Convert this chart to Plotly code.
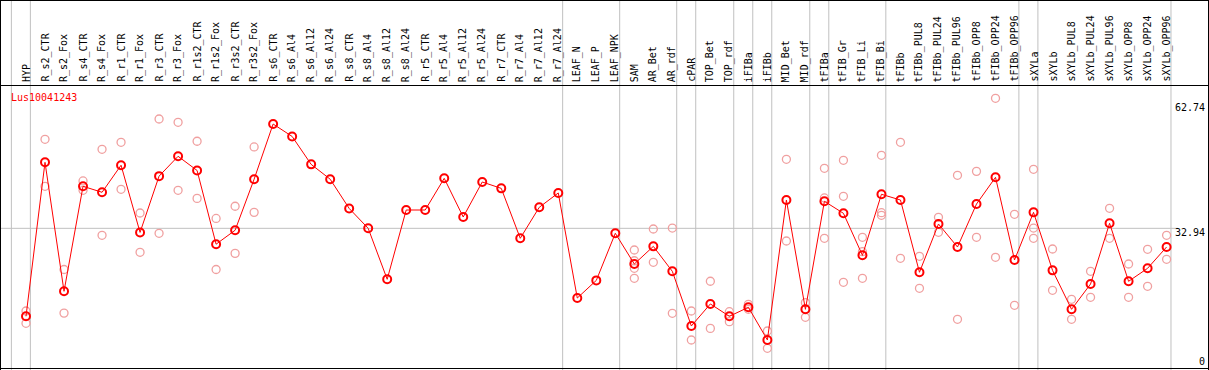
import plotly.graph_objects as go

categories = ["HYP", "R_s2_CTR", "R_s2_Fox", "R_s4_CTR", "R_s4_Fox", "R_r1_CTR", "R_r1_Fox",
              "R_r3_CTR", "R_r3_Fox", "R_r1s2_CTR", "R_r1s2_Fox", "R_r3s2_CTR", "R_r3s2_Fox",
              "R_s6_CTR", "R_s6_Al4", "R_s6_Al12", "R_s6_Al24", "R_s8_CTR", "R_s8_Al4", "R_s8_Al12",
              "R_s8_Al24", "R_r5_CTR", "R_r5_Al4", "R_r5_Al12", "R_r5_Al24", "R_r7_CTR", "R_r7_Al4",
              "R_r7_Al12", "R_r7_Al24", "LEAF_N", "LEAF_P", "LEAF_NPK", "SAM", "AR_Bet", "AR_rdf",
              "cPAR", "TOP_Bet", "TOP_rdf", "iFIBa", "iFIBb", "MID_Bet", "MID_rdf", "tFIBa",
              "tFIB_Gr", "tFIB_Li", "tFIB_Bi", "tFIBb", "tFIBb_PUL8", "tFIBb_PUL24", "tFIBb_PUL96",
              "tFIBb_OPP8", "tFIBb_OPP24", "tFIBb_OPP96", "sXYLa", "sXYLb", "sXYLb_PUL8",
              "sXYLb_PUL24", "sXYLb_PUL96", "sXYLb_OPP8", "sXYLb_OPP24", "sXYLb_OPP96"]

means = [12.77, 48.07, 18.5, 42.57, 41.2, 47.4, 32.0, 44.9, 49.45, 46.2, 29.3, 32.5, 44.2,
         56.85, 54.0, 47.6, 44.2, 37.5, 32.94, 21.25, 37.14, 37.14, 44.4, 35.53, 43.56, 42.1,
         30.65, 37.76, 41.04, 16.96, 21.0, 31.8, 24.76, 28.8, 23.08, 10.55, 15.6, 12.77, 14.83,
         7.34, 39.43, 14.37, 39.13, 36.38, 26.75, 40.74, 39.43, 22.86, 33.93, 28.66, 38.51,
         44.63, 25.68, 36.6, 23.3, 14.37, 20.17, 34.09, 20.79, 23.77, 28.66]

replicates = [
    [13.98, 11.16], [53.35, 42.57], [23.5, 13.5], [43.8, 41.65], [51.05, 31.34],
    [52.66, 41.88], [36.45, 27.44], [58.0, 31.8], [57.25, 41.65], [52.9, 39.8],
    [35.2, 23.5], [38.0, 27.2], [51.6, 36.6],
    [], [], [], [], [], [], [], [], [], [], [], [], [], [], [], [], [], [], [],
    [27.97, 25.5, 23.77, 21.48], [32.78, 25.15], [33.0, 13.45], [13.98, 7.34],
    [20.8, 10.0], [13.83, 11.54], [15.5, 14.37], [9.4, 5.43], [48.76, 30.03],
    [15.9, 12.54], [46.7, 39.9, 30.65], [48.53, 40.28, 20.56], [30.88, 27.58, 21.48],
    [49.68, 36.52, 35.92], [52.66, 26.07], [26.52, 19.19], [35.46, 32.03],
    [45.09, 12.08], [46.0, 30.88], [62.74, 26.3], [36.15, 15.29],
    [46.47, 33.0, 30.65], [28.2, 18.73], [16.67, 12.08], [23.08, 17.12],
    [37.53, 30.65], [24.76, 17.12], [28.13, 19.65], [31.34, 25.84],
]

group_last = ["HYP", "R_r7_Al24", "LEAF_NPK", "AR_rdf", "cPAR", "TOP_rdf", "iFIBa", "iFIBb",
              "MID_rdf", "tFIBa", "tFIB_Bi", "tFIBb_OPP96", "sXYLa", "sXYLb_OPP96"]

scale_labels = ["62.74", "32.94", "0"]
gene_name = "Lus10041243"

W, H = 1209, 370
FONT = "DejaVu Sans Mono"

idx = list(range(len(categories)))
rx, ry = [], []
for i, reps in enumerate(replicates):
    for v in reps:
        rx.append(i)
        ry.append(v)

fig = go.Figure()
fig.add_trace(go.Scatter(x=rx, y=ry, mode="markers",
                         marker=dict(symbol="circle-open", size=8, color="#f0a0a0",
                                     line=dict(width=1.3, color="#f0a0a0")),
                         hoverinfo="skip", showlegend=False))
fig.add_trace(go.Scatter(x=idx, y=means, mode="lines+markers",
                         line=dict(color="#ff0000", width=1),
                         marker=dict(symbol="circle-open", size=8, color="#ff0000",
                                     line=dict(width=2, color="#ff0000")),
                         showlegend=False))

# axes mapping: index 0 -> px 26, 19.01 px per category; value scale 4.362 px/unit
xmin = -26 / 19.01
xmax = (W - 26) / 19.01
ymax = 372 / 4.362
ymin = (372 - H) / 4.362

shapes = []
bounds = [-1] + [categories.index(n) for n in group_last]
for b in bounds:
    shapes.append(dict(type="line", xref="x", yref="paper", x0=b + 0.23, x1=b + 0.23,
                       y0=0, y1=1, line=dict(color="#c0c0c0", width=1), layer="below"))
shapes.append(dict(type="line", xref="paper", yref="y", x0=0, x1=1178 / W,
                   y0=float(scale_labels[1]), y1=float(scale_labels[1]),
                   line=dict(color="#c0c0c0", width=1), layer="below"))


def py(p):
    return 1 - p / H


def px(p):
    return p / W


blk = dict(color="#000000", width=1)
shapes += [
    dict(type="line", xref="paper", yref="paper", x0=0, x1=1, y0=py(0.5), y1=py(0.5), line=blk),
    dict(type="line", xref="paper", yref="paper", x0=0, x1=1, y0=py(85.5), y1=py(85.5), line=blk),
    dict(type="line", xref="paper", yref="paper", x0=0, x1=1, y0=py(368.5), y1=py(368.5), line=blk),
    dict(type="line", xref="paper", yref="paper", x0=px(0.5), x1=px(0.5), y0=0, y1=1, line=blk),
    dict(type="line", xref="paper", yref="paper", x0=px(1208.5), x1=px(1208.5), y0=0, y1=1, line=blk),
]

annotations = []
for i, name in enumerate(categories):
    annotations.append(dict(x=i, xref="x", y=py(84), yref="paper", text=name,
                            textangle=-90, showarrow=False, xanchor="center", yanchor="bottom",
                            font=dict(family=FONT, size=10, color="#000000")))
annotations.append(dict(x=px(9), y=py(97), xref="paper", yref="paper", text=gene_name,
                        showarrow=False, xanchor="left", yanchor="middle",
                        font=dict(family=FONT, size=10, color="#ff0000")))
for lab, ypx in zip(scale_labels, [107.5, 232, 361.5]):
    annotations.append(dict(x=px(1207), y=py(ypx), xref="paper", yref="paper", text=lab,
                            showarrow=False, xanchor="right", yanchor="middle",
                            font=dict(family=FONT, size=10, color="#000000")))

fig.update_layout(
    width=W, height=H, margin=dict(l=0, r=0, t=0, b=0),
    paper_bgcolor="white", plot_bgcolor="white",
    xaxis=dict(range=[xmin, xmax], visible=False, fixedrange=True),
    yaxis=dict(range=[ymin, ymax], visible=False, fixedrange=True),
    shapes=shapes, annotations=annotations,
)

fig.write_html("out.html", config={"displayModeBar": False})

# remove default page margins so the figure sits at the window's top-left corner
with open("out.html", "r", encoding="utf-8") as f:
    html = f.read()
html = html.replace("<head>", "<head><style>html,body{margin:0;padding:0;overflow:hidden;}</style>", 1)
with open("out.html", "w", encoding="utf-8") as f:
    f.write(html)
